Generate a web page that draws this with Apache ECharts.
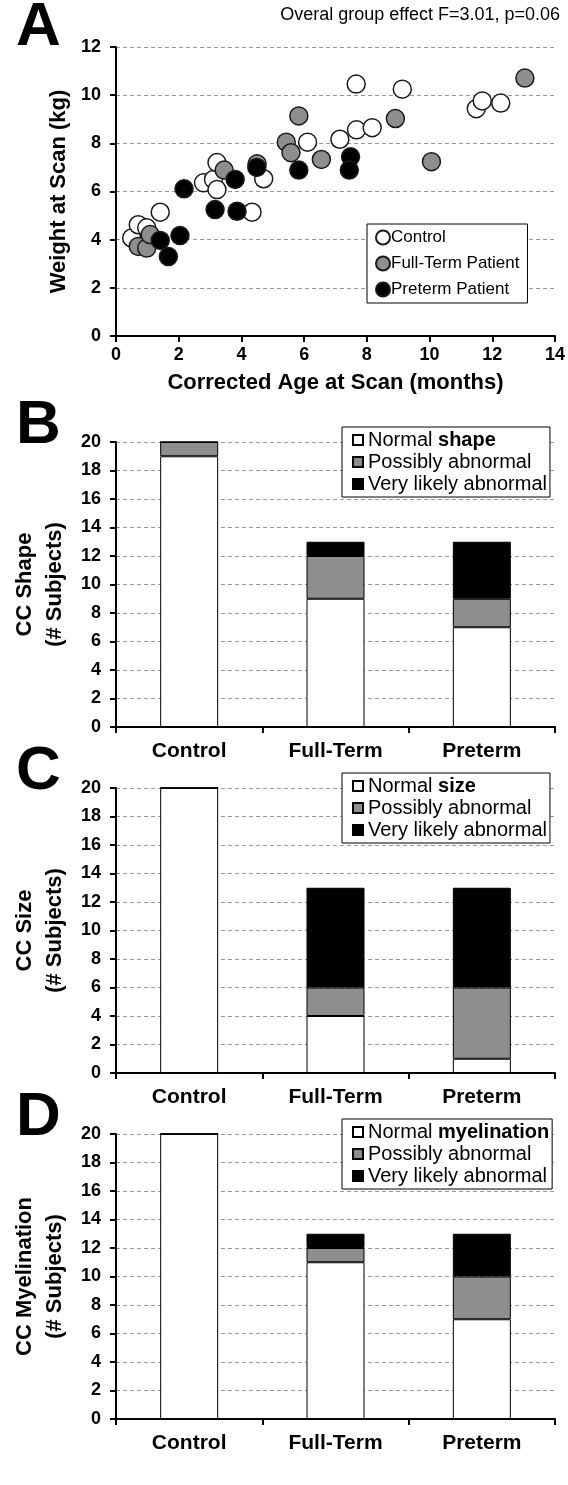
<!DOCTYPE html>
<html><head><meta charset="utf-8">
<script src="https://cdn.jsdelivr.net/npm/echarts@6/dist/echarts.min.js"></script>
<style>html,body{margin:0;padding:0;background:#fff}#c{width:568px;height:1485px}</style>
</head><body><div id="c"></div>
<script>
// Panel A: weight vs corrected age
const controlPts = [[0.5,4.07],[0.71,4.62],[0.98,4.49],[1.41,5.14],[2.79,6.36],[3.11,6.5],[3.22,7.2],[3.22,6.08],[4.34,5.14],[4.71,6.53],[6.11,8.05],[7.14,8.17],[7.67,8.56],[8.17,8.65],[7.66,10.46],[9.13,10.25],[11.49,9.44],[11.68,9.76],[12.27,9.67]];
const fullTermPts = [[0.71,3.72],[0.98,3.65],[1.09,4.21],[3.45,6.89],[4.5,7.15],[5.43,8.05],[5.58,7.61],[5.83,9.14],[6.55,7.33],[8.91,9.03],[10.06,7.24],[13.04,10.71]];
const pretermPts = [[1.41,3.97],[2.04,4.17],[1.67,3.3],[2.17,6.11],[3.16,5.25],[3.86,5.18],[3.8,6.5],[4.49,7.0],[5.83,6.89],[7.48,7.44],[7.44,6.89]];
// Panels B-D
const groups = ['Control','Full-Term','Preterm'];
const shapeNormal = [19,9,7], shapePossible = [1,3,2], shapeLikely = [0,1,4];
const sizeNormal = [20,4,1], sizePossible = [0,2,5], sizeLikely = [0,7,7];
const myelNormal = [20,11,7], myelPossible = [0,1,3], myelLikely = [0,1,3];

const FONT = "'Liberation Sans', Arial, sans-serif";
const GRAY = '#8e8e8e';
const chart = echarts.init(document.getElementById('c'), null, {renderer:'canvas'});

const tops = [442, 788, 1134];
const grids = [{left:116, width:439, top:47, height:289}];
tops.forEach((t)=>grids.push({left:116, width:439, top:t, height:285}));

const axisLineStyle = {lineStyle:{color:'#000', width:2}};
const splitDash = {show:true, lineStyle:{color:'#999', type:[4,3], width:1}};
const tickLbl = {fontFamily:FONT, fontWeight:'bold', fontSize:18, color:'#000'};
const tickStyle = {show:true, length:6, lineStyle:{color:'#000', width:2}};

const xAxes = [{
  gridIndex:0, type:'value', min:0, max:14, interval:2,
  axisLine:{show:true, onZero:false, ...axisLineStyle}, axisTick:tickStyle,
  splitLine:{show:false}, axisLabel:{...tickLbl, margin:10},
  name:'Corrected Age at Scan (months)', nameLocation:'middle', nameGap:36,
  nameTextStyle:{fontFamily:FONT, fontWeight:'bold', fontSize:22, color:'#000'}
}];
const yAxes = [{
  gridIndex:0, type:'value', min:0, max:12, interval:2,
  axisLine:{show:true, ...axisLineStyle}, axisTick:tickStyle,
  splitLine:splitDash, axisLabel:{...tickLbl, margin:15},
  name:'Weight at Scan (kg)', nameLocation:'middle', nameGap:45, nameRotate:90,
  nameTextStyle:{fontFamily:FONT, fontWeight:'bold', fontSize:22, color:'#000'}
}];
const yNames = ['CC Shape\n(# Subjects)', 'CC Size\n(# Subjects)', 'CC Myelination\n(# Subjects)'];
for (let i=1;i<=3;i++){
  xAxes.push({gridIndex:i, type:'category', data:groups,
    axisLine:{show:true, ...axisLineStyle}, axisTick:tickStyle,
    axisLabel:{fontFamily:FONT, fontWeight:'bold', fontSize:21, color:'#000', margin:14}});
  yAxes.push({gridIndex:i, type:'value', min:0, max:20, interval:2,
    axisLine:{show:true, ...axisLineStyle}, axisTick:tickStyle,
    splitLine:splitDash, axisLabel:{...tickLbl, margin:15},
    name:yNames[i-1], nameLocation:'middle', nameGap:34, nameRotate:90,
    nameTextStyle:{fontFamily:FONT, fontWeight:'bold', fontSize:22, color:'#000', lineHeight:30}});
}

const scatterStyle = (c)=>({color:c, borderColor:'#1a1a1a', borderWidth:1.5, opacity:1});
const series = [
  {name:'Control', type:'scatter', xAxisIndex:0, yAxisIndex:0, data:controlPts, symbolSize:18, itemStyle:scatterStyle('#fff')},
  {name:'Full-Term Patient', type:'scatter', xAxisIndex:0, yAxisIndex:0, data:fullTermPts, symbolSize:18, itemStyle:scatterStyle(GRAY)},
  {name:'Preterm Patient', type:'scatter', xAxisIndex:0, yAxisIndex:0, data:pretermPts, symbolSize:18, itemStyle:scatterStyle('#000')}
];
const panels = [
  ['Normal shape', shapeNormal, shapePossible, shapeLikely],
  ['Normal size', sizeNormal, sizePossible, sizeLikely],
  ['Normal myelination', myelNormal, myelPossible, myelLikely]
];
panels.forEach((p,i)=>{
  const idx=i+1, st='s'+idx;
  const bs = (c)=>({color:c, borderColor:'#000', borderWidth:1});
  series.push({name:p[0], type:'bar', stack:st, xAxisIndex:idx, yAxisIndex:idx, data:p[1], barWidth:58, itemStyle:bs('#fff')});
  series.push({name:'Possibly abnormal', type:'bar', stack:st, xAxisIndex:idx, yAxisIndex:idx, data:p[2], barWidth:58, itemStyle:bs(GRAY)});
  series.push({name:'Very likely abnormal', type:'bar', stack:st, xAxisIndex:idx, yAxisIndex:idx, data:p[3], barWidth:58, itemStyle:bs('#000')});
});

const legendBase = {orient:'vertical', backgroundColor:'#fff', borderColor:'#000', borderWidth:1, selectedMode:false};
const legends = [{
  ...legendBase, left:367, top:224, padding:[5,8,5,8], itemGap:9,
  data:['Control','Full-Term Patient','Preterm Patient'],
  icon:'circle', itemWidth:14, itemHeight:14,
  textStyle:{fontFamily:FONT, fontSize:17, color:'#000', padding:[0,0,0,-4]}
}];
panels.forEach((p,i)=>{
  legends.push({...legendBase, left:342, top:tops[i]-15, padding:[3,3,3,10], itemGap:2,
    data:[p[0],'Possibly abnormal','Very likely abnormal'],
    icon:'rect', itemWidth:10, itemHeight:10,
    formatter:(n)=> n.startsWith('Normal ') ? '{n|Normal }{b|'+n.slice(7)+'}' : n,
    textStyle:{fontFamily:FONT, fontSize:20, color:'#000',
      rich:{n:{fontFamily:FONT, fontSize:20, color:'#000'}, b:{fontFamily:FONT, fontSize:20, fontWeight:'bold', color:'#000'}}}
  });
});

const letter = (t,x,y)=>({type:'text', left:x, top:y, style:{text:t, fontFamily:FONT, fontWeight:'bold', fontSize:62, fill:'#000'}});
chart.setOption({
  animation:false,
  grid:grids, xAxis:xAxes, yAxis:yAxes, series, legend:legends,
  graphic:[
    letter('A',16,-3), letter('B',16,tops[0]-47), letter('C',16,tops[1]-47), letter('D',16,tops[2]-47),
    {type:'text', right:8, top:6, style:{text:'Overal group effect F=3.01, p=0.06', fontFamily:FONT, fontSize:18, fill:'#000'}}
  ]
});
</script></body></html>
